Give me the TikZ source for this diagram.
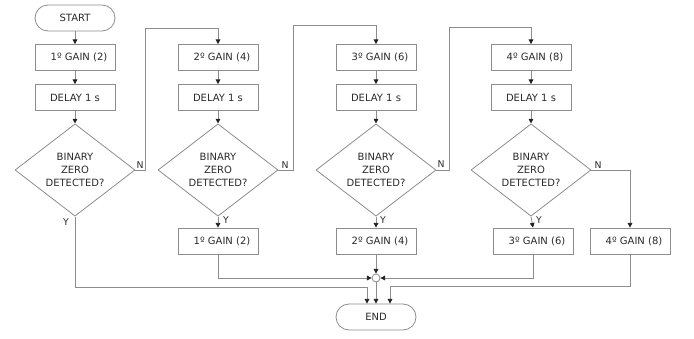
\documentclass[tikz,border=0pt]{standalone}
\usepackage{fontspec}
\setmainfont{DejaVu Sans}
\usetikzlibrary{shapes.geometric,arrows.meta}
\definecolor{linegray}{HTML}{8C8C8C}
\definecolor{textgray}{HTML}{2A2A2A}
\definecolor{tipgray}{HTML}{202020}
\begin{document}
\begin{tikzpicture}[x=0.75pt,y=-0.75pt,
  every node/.style={font=\fontsize{7.5}{9.75}\selectfont, text=textgray},
  box/.style={draw=linegray, line width=0.6pt, rectangle, minimum width=60pt, minimum height=19.5pt, inner sep=0pt},
  term/.style={box, rounded corners=9.75pt},
  query/.style={draw=linegray, line width=0.6pt, diamond, minimum width=90pt, minimum height=67.5pt, inner sep=0pt, align=center},
  tag/.style={font=\fontsize{7}{7}\selectfont, inner sep=0pt},
  link/.style={draw=linegray, line width=0.6pt},
  arr/.style={link, -{Triangle[length=3.5pt,width=3.5pt,color=tipgray]}},
  joint/.style={circle, draw=linegray, line width=0.6pt, fill=white, minimum size=6pt, inner sep=0pt}]
\useasboundingbox (0,0) rectangle (694,339);

% main column of each stage
\node[term] (start) at (75,18) {START};
\foreach \i/\x/\g in {1/75/2, 2/218/4, 3/376/6, 4/531/8} {
  \node[box] (g\i) at (\x,57.5) {\hspace*{6pt}\i º GAIN (\g)};
  \node[box] (d\i) at (\x,97.5) {DELAY 1 s};
  \node[query] (q\i) at (\x,170) {BINARY\\ZERO\\DETECTED?};
}

% result boxes
\node[box] (h1) at (218,241) {\hspace*{6pt}1º GAIN (2)};
\node[box] (h2) at (376,241) {\hspace*{6pt}2º GAIN (4)};
\node[box] (h3) at (533,241) {\hspace*{6pt}3º GAIN (6)};
\node[box] (h4) at (630,241) {\hspace*{6pt}4º GAIN (8)};

\node[joint] (j) at (376,278) {};
\node[term] (end) at (376,317) {END};

% turning points of the routes
\coordinate (r1) at (145,28);
\coordinate (r2) at (293,25);
\coordinate (r3) at (449,27);
\coordinate (c1) at (367,287);
\coordinate (c4) at (390,286);

% flow within each stage
\draw[arr] (start) -- (g1);
\foreach \i in {1,2,3,4} {
  \draw[arr] (g\i) -- (d\i);
  \draw[arr] (d\i) -- (q\i);
}

% "N" branches
\draw[arr] (q1.east) -| (r1) -| (g2.north);
\draw[arr] (q2.east) -| (r2) -| (g3.north);
\draw[arr] (q3.east) -| (r3) -| (g4.north);
\draw[arr] (q4.east) -| (h4.north);

% "Y" branches
\draw[arr] (q2.south) -- (h1.north);
\draw[arr] (q3.south) -- (h2.north);
\draw[arr] (q4.south) -- (h3.north);

% merging into END
\draw[arr] (h1.south) |- (j.west);
\draw[arr] (h2.south) -- (j.north);
\draw[arr] (h3.south) |- (j.east);
\draw[arr] (j.south) -- (end.north);
\draw[arr] (q1.south) |- (c1) -- (c1 |- end.north);
\draw[arr] (h4.south) |- (c4) -- (c4 |- end.north);

% branch tags
\node[tag] (n1) at (140,165) {N};
\node[tag] (n2) at (285,165) {N};
\node[tag] (n3) at (441,164) {N};
\node[tag] (n4) at (598,165) {N};
\node[tag] (y1) at (66,222) {Y};
\node[tag] (y2) at (226,220) {Y};
\node[tag] (y3) at (383,220) {Y};
\node[tag] (y4) at (539,220) {Y};
\end{tikzpicture}
\end{document}
